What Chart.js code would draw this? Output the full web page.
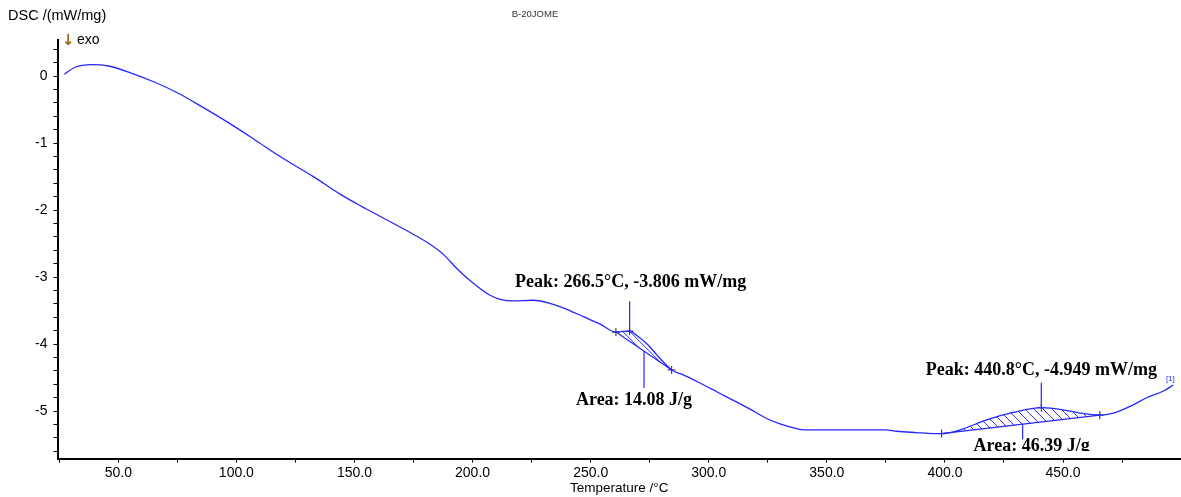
<!DOCTYPE html>
<html><head><meta charset="utf-8">
<script src="https://cdn.jsdelivr.net/npm/chart.js@4/dist/chart.umd.min.js"></script>
<style>html,body{margin:0;padding:0;background:#fff;overflow:hidden}canvas{display:block}</style>
</head><body>
<canvas id="c" width="1181" height="497"></canvas>
<script>
// ---- data ----
const temperatures = [27.1, 31.7, 38.7, 45.8, 55.7, 65.5, 75.4, 85.3, 96.6, 107.9, 118.5, 132.6, 143.9, 152.3, 165.0, 174.9, 182.0, 187.6, 193.3, 200.3, 207.4, 211.6, 217.3, 225.7, 232.8, 239.9, 246.9, 254.0, 260.7, 263.5, 266.5, 269.5, 273.7, 278.0, 284.3, 289.2, 296.3, 303.4, 310.4, 317.5, 324.5, 330.2, 336.5, 340.7, 355.6, 374.6, 379.6, 388.0, 395.1, 398.6, 406.4, 417.7, 428.9, 440.8, 450.1, 457.2, 465.6, 471.3, 478.4, 485.4, 492.5, 496.7];
const dscValues = [0.028, 0.133, 0.172, 0.152, 0.043, -0.091, -0.255, -0.455, -0.694, -0.952, -1.20, -1.50, -1.76, -1.93, -2.17, -2.36, -2.51, -2.66, -2.87, -3.09, -3.27, -3.33, -3.355, -3.345, -3.39, -3.48, -3.59, -3.70, -3.82, -3.81, -3.806, -3.87, -3.99, -4.16, -4.385, -4.46, -4.58, -4.71, -4.84, -4.97, -5.11, -5.19, -5.255, -5.28, -5.28, -5.28, -5.30, -5.32, -5.335, -5.335, -5.28, -5.13, -5.02, -4.949, -4.98, -5.03, -5.06, -5.03, -4.93, -4.80, -4.70, -4.61];
const xTickValues = [25, 50, 75, 100, 125, 150, 175, 200, 225, 250, 275, 300, 325, 350, 375, 400, 425, 450, 475];
const markerTemps = [260.7, 266.5, 284.3, 398.6, 440.8, 465.6];
const markerValues = [-3.82, -3.806, -4.385, -5.335, -4.949, -5.06];
const peakStartTemps = [260.7, 398.6];
const peakEndTemps = [284.3, 465.6];
const peakTemps = [266.5, 440.8];
const peakValues = [-3.806, -4.949];
const areaLineTemps = [272.6, 432.9];
const peakLabels = ['Peak: 266.5°C, -3.806 mW/mg', 'Peak: 440.8°C, -4.949 mW/mg'];
const areaLabels = ['Area: 14.08 J/g', 'Area: 46.39 J/g'];
const chartTitle = 'B-20JOME';
const yAxisTitle = 'DSC /(mW/mg)';
const xAxisTitle = 'Temperature /°C';
const curveName = '[1]';

// ---- styling / layout ----
const BLUE = '#2626ff';
const SANS = '"Liberation Sans", Arial, sans-serif';
const SERIF = '"Liberation Serif", "Times New Roman", serif';
const annotLayout = [
  {peakDx: 1, peakLabelDy: -49, peakLineDy: -30, areaDx: -10, areaLabelY: 400, areaLineEnd: 388, hatch: 7},
  {peakDx: 0, peakLabelDy: -37, peakLineDy: -25, areaDx: 9, areaLabelY: 446.7, areaLineEnd: 439.3, hatch: 9}
];

function valueAt(t) {
  for (let i = 0; i < temperatures.length - 1; i++) {
    if (t >= temperatures[i] && t <= temperatures[i + 1]) {
      const f = (t - temperatures[i]) / (temperatures[i + 1] - temperatures[i]);
      return dscValues[i] + f * (dscValues[i + 1] - dscValues[i]);
    }
  }
  return dscValues[dscValues.length - 1];
}

const overlay = {
  id: 'overlay',
  afterDatasetsDraw(chart) {
    const ctx = chart.ctx, xs = chart.scales.x, ys = chart.scales.y;
    const meta = chart.getDatasetMeta(0).data;
    const H = chart.chartArea.bottom - chart.chartArea.top;
    ctx.save();
    for (let k = 0; k < peakStartTemps.length; k++) {
      const i0 = temperatures.indexOf(peakStartTemps[k]);
      const i1 = temperatures.indexOf(peakEndTemps[k]);
      // hatched area between curve and straight baseline
      ctx.save();
      ctx.beginPath();
      ctx.moveTo(meta[i0].x, meta[i0].y);
      for (let i = i0; i < i1; i++) {
        const p = meta[i], q = meta[i + 1];
        ctx.bezierCurveTo(p.cp2x, p.cp2y, q.cp1x, q.cp1y, q.x, q.y);
      }
      ctx.lineTo(meta[i0].x, meta[i0].y);
      ctx.closePath();
      ctx.clip();
      ctx.strokeStyle = BLUE;
      ctx.lineWidth = 1;
      const h = annotLayout[k].hatch;
      ctx.beginPath();
      for (let x = meta[i0].x - H - 20; x < meta[i1].x + 20; x += h) {
        ctx.moveTo(x, chart.chartArea.top);
        ctx.lineTo(x + H, chart.chartArea.bottom);
      }
      ctx.stroke();
      ctx.restore();
      ctx.strokeStyle = BLUE;
      ctx.lineWidth = 1.2;
      ctx.beginPath();
      ctx.moveTo(meta[i0].x, meta[i0].y);
      ctx.lineTo(meta[i1].x, meta[i1].y);
      ctx.stroke();

      // peak annotation
      const L = annotLayout[k];
      const px = xs.getPixelForValue(peakTemps[k]);
      const py = ys.getPixelForValue(peakValues[k]);
      ctx.beginPath();
      ctx.moveTo(px, py);
      ctx.lineTo(px, py + L.peakLineDy);
      ctx.stroke();
      ctx.fillStyle = '#000';
      ctx.font = 'bold 18px ' + SERIF;
      ctx.textAlign = 'center';
      ctx.textBaseline = 'middle';
      ctx.fillText(peakLabels[k], px + L.peakDx, py + L.peakLabelDy);

      // area annotation
      const ax = xs.getPixelForValue(areaLineTemps[k]);
      const f = (areaLineTemps[k] - peakStartTemps[k]) / (peakEndTemps[k] - peakStartTemps[k]);
      const bv = valueAt(peakStartTemps[k]) + f * (valueAt(peakEndTemps[k]) - valueAt(peakStartTemps[k]));
      const ay = ys.getPixelForValue(bv);
      ctx.beginPath();
      ctx.moveTo(ax, ay);
      ctx.lineTo(ax, L.areaLineEnd);
      ctx.stroke();
      ctx.save();
      ctx.beginPath();
      ctx.rect(0, 0, chart.width, 451);
      ctx.clip();
      ctx.fillText(areaLabels[k], ax + L.areaDx, L.areaLabelY);
      ctx.restore();
    }
    const last = meta[meta.length - 1];
    ctx.fillStyle = BLUE;
    ctx.font = '8px ' + SANS;
    ctx.textAlign = 'center';
    ctx.textBaseline = 'middle';
    ctx.fillText(curveName, last.x - 3, last.y - 6);
    ctx.restore();
  },
  afterDraw(chart) {
    const ctx = chart.ctx;
    ctx.save();
    ctx.fillStyle = '#000';
    ctx.textBaseline = 'middle';
    ctx.textAlign = 'left';
    ctx.font = '14.5px ' + SANS;
    ctx.fillText(yAxisTitle, 8, 16);
    ctx.font = '14px ' + SANS;
    ctx.fillText('exo', 77, 40);
    ctx.fillStyle = '#9a6a1a';
    ctx.font = 'bold 15px "DejaVu Sans", sans-serif';
    ctx.fillText('\u2193', 62, 41);
    ctx.fillStyle = '#333';
    ctx.font = '9.5px ' + SANS;
    ctx.textAlign = 'center';
    ctx.fillText(chartTitle, 535, 14);
    ctx.restore();
  }
};

const isMult = (v, m) => Math.abs(v / m - Math.round(v / m)) < 1e-6;

new Chart(document.getElementById('c'), {
  type: 'line',
  data: {
    datasets: [
      {
        data: temperatures.map((t, i) => ({x: t, y: dscValues[i]})),
        borderColor: BLUE, borderWidth: 1.3, pointRadius: 0,
        cubicInterpolationMode: 'monotone', fill: false
      },
      {
        data: markerTemps.map((t, i) => ({x: t, y: markerValues[i]})),
        showLine: false, pointStyle: 'cross', pointRadius: 4,
        borderColor: '#222', borderWidth: 1, backgroundColor: '#222'
      }
    ]
  },
  options: {
    responsive: false, animation: false, devicePixelRatio: 1,
    layout: {padding: {top: 40, right: 0, left: 0, bottom: 0}, autoPadding: false},
    plugins: {legend: {display: false}, tooltip: {enabled: false}, title: {display: false}},
    scales: {
      x: {
        type: 'linear', min: 24.26, max: 499.95,
        afterFit: s => { s.height = 38.3; s.paddingLeft = 0; s.paddingRight = 0; },
        afterBuildTicks: s => { s.ticks = xTickValues.map(v => ({value: v})); },
        grid: {drawOnChartArea: false, drawTicks: true, tickLength: 4, color: '#000'},
        border: {color: '#000', width: 2},
        ticks: {
          autoSkip: false, maxRotation: 0, padding: 2,
          color: '#000', font: {family: SANS, size: 14},
          callback: v => (isMult(v, 50) ? Number(v).toFixed(1) : '')
        },
        title: {display: true, text: xAxisTitle, color: '#000', font: {family: SANS, size: 13.5}, padding: {top: 0, bottom: 1}}
      },
      y: {
        type: 'linear', min: -5.71, max: 0.54,
        afterFit: s => { s.width = 57.5; s.paddingTop = 0; s.paddingBottom = 0; },
        grid: {drawOnChartArea: false, drawTicks: true, tickLength: 4, color: '#000'},
        border: {color: '#000', width: 2},
        ticks: {
          stepSize: 0.2, autoSkip: false, includeBounds: false, padding: 6,
          color: '#000', font: {family: SANS, size: 14},
          callback: v => (isMult(v, 1) ? String(Math.round(v)) : '')
        }
      }
    }
  },
  plugins: [overlay]
});
</script>
</body></html>
